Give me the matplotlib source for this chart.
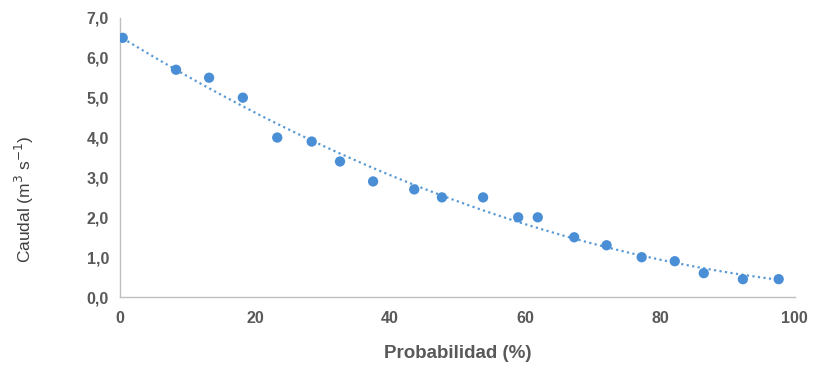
import numpy as np
import matplotlib
matplotlib.use("Agg")
import matplotlib.pyplot as plt
from matplotlib import font_manager

probabilidad = [0.4, 8.3, 13.2, 18.2, 23.3, 28.4, 32.6, 37.5, 43.6, 47.7,
                53.8, 59.0, 61.9, 67.3, 72.1, 77.3, 82.2, 86.5, 92.3, 97.6]
caudal = [6.5, 5.7, 5.5, 5.0, 4.0, 3.9, 3.4, 2.9, 2.7, 2.5,
          2.5, 2.0, 2.0, 1.5, 1.3, 1.0, 0.9, 0.6, 0.45, 0.45]
x_ticks = [0, 20, 40, 60, 80, 100]
y_ticks = [0, 1, 2, 3, 4, 5, 6, 7]

names = {f.name for f in font_manager.fontManager.ttflist}
has_narrow = "Liberation Sans Narrow" in names

fig = plt.figure(figsize=(8.22, 3.65), dpi=100)
ax = fig.add_axes([0.146, 0.186, 0.821, 0.765])

# polynomial trend line (2nd order)
coef = np.polyfit(probabilidad, caudal, 2)
xs = np.linspace(probabilidad[0], probabilidad[-1], 200)
ax.plot(xs, np.polyval(coef, xs), linestyle=(0, (1, 1.5)), color="#5b9bd5", lw=1.6, zorder=2)

ax.scatter(probabilidad, caudal, s=55, color="#4a8fd6", zorder=3, edgecolors="none")

ax.set_xlim(0, 100)
ax.set_ylim(0, 7)
ax.set_xticks(x_ticks)
ax.set_yticks(y_ticks)
ax.set_yticklabels([f"{v:.1f}".replace(".", ",") for v in y_ticks])
for lab in ax.get_xticklabels() + ax.get_yticklabels():
    lab.set_fontfamily("Liberation Sans")
    lab.set_fontweight("bold")
    lab.set_fontsize(11.5)
    lab.set_color("#595959")
ax.tick_params(length=0, pad=10)
ax.tick_params(axis="y", pad=8)

for s in ["top", "right"]:
    ax.spines[s].set_visible(False)
for s in ["left", "bottom"]:
    ax.spines[s].set_color("#bfbfbf")
    ax.spines[s].set_linewidth(1.0)

ax.set_xlabel("Probabilidad (%)", fontfamily="Liberation Sans", fontweight="bold",
              fontsize=13.5, color="#595959", labelpad=14)

fams = ["Liberation Sans Narrow", "Liberation Sans", "DejaVu Sans"] if has_narrow else ["Liberation Sans", "DejaVu Sans"]
ax.set_ylabel("Caudal (m$^{3}$ s$^{-1}$)", fontfamily=fams, fontsize=12.5, color="#404040")
ax.yaxis.set_label_coords(-0.125, 0.35)

fig.savefig("out.png", dpi=100)
